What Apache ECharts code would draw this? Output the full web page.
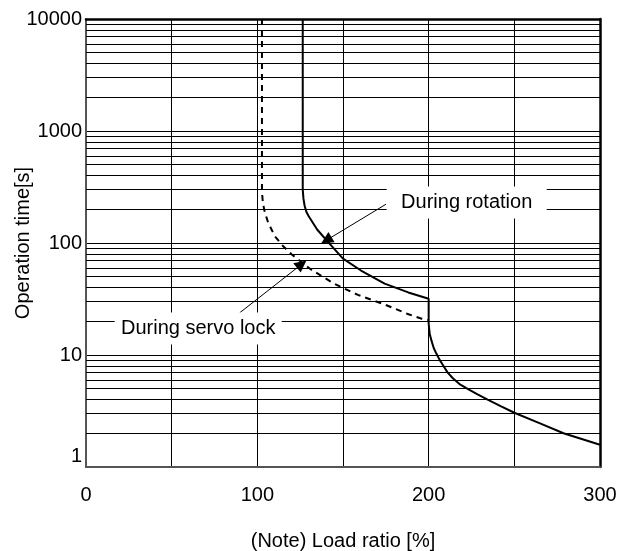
<!DOCTYPE html>
<html>
<head>
<meta charset="utf-8">
<script src="https://cdn.jsdelivr.net/npm/echarts@6/dist/echarts.min.js"></script>
<style>
html,body{margin:0;padding:0;background:#fff;}
#chart{width:628px;height:551px;}
</style>
</head>
<body>
<div id="chart"></div>
<script>
// ---- Data ----
const loadRotation = [126.5, 126.5, 126.9, 127.6, 128.6, 129.9, 134.9, 140.8, 150, 160.5, 174.3, 188.1, 200, 200, 200.6, 201.6, 203, 204.5, 206.3, 208.3, 211, 214.1, 218, 222.5, 228, 234.4, 242, 250, 265, 278.7, 300];
const timeRotation = [10000, 300, 250, 215, 190, 174, 132, 104, 72.6, 56.8, 43.4, 36.2, 31.8, 19, 15.5, 13.5, 11.5, 10.3, 9.1, 8.15, 7.0, 6.2, 5.5, 5.0, 4.5, 4.0, 3.5, 3.05, 2.45, 2.0, 1.58];

const loadServo = [102.7, 102.7, 103.2, 104.3, 106.3, 110.2, 115.1, 120.1, 130.9, 144.7, 158.7, 174.4, 188.2, 196, 199.5];
const timeServo = [10000, 290, 230, 190, 152, 115, 93.5, 79, 58.6, 43.4, 34.4, 28.2, 23.1, 21.1, 20.5];

const xTickLabels = ['0', '100', '200', '300'];
const yTickLabels = ['1', '10', '100', '1000', '10000'];
const decades = [1, 10, 100, 1000];
const minorMultipliers = [2, 3, 4, 5, 6, 7, 8, 9];

const labelRotation = 'During rotation';
const labelServo = 'During servo lock';
const xAxisName = '(Note) Load ratio [%]';
const yAxisName = 'Operation time[s]';

// annotation anchors (data units)
const rotationLabelAt = [222.2, 230];
const rotationArrowFrom = [175.1, 222];
const rotationArrowTo = [140.3, 105.8];
const servoLabelAt = [65.5, 17.2];
const servoArrowFrom = [89.7, 23.8];
const servoArrowTo = [125.9, 64.7];

// ---- Build ----
const FONT = "'Liberation Sans', Arial, sans-serif";
const zip = (xs, ys) => xs.map((x, i) => [x, ys[i]]);
const minorLines = [];
decades.forEach(d => minorMultipliers.forEach(m => minorLines.push({ yAxis: d * m })));

const chart = echarts.init(document.getElementById('chart'), null, { renderer: 'canvas' });
chart.setOption({
  animation: false,
  backgroundColor: '#fff',
  textStyle: { fontFamily: FONT },
  grid: { left: 86, right: 28, top: 19, bottom: 84, containLabel: false, outerBoundsMode: 'none' },
  xAxis: [
    {
      type: 'value', min: 0, max: 300, interval: 50, position: 'bottom',
      name: xAxisName, nameLocation: 'middle', nameGap: 64, nameMoveOverlap: false,
      nameTextStyle: { fontSize: 20, color: '#000', fontFamily: FONT },
      axisLine: { show: true, onZero: false, lineStyle: { color: '#555', width: 2 } },
      axisTick: { show: false },
      axisLabel: {
        margin: 18, fontSize: 20, color: '#000', fontFamily: FONT,
        formatter: v => { const s = String(v); return xTickLabels.includes(s) ? s : ''; }
      },
      splitLine: { show: true, lineStyle: { color: '#000', width: 1 } }
    },
    {
      type: 'value', min: 0, max: 300, position: 'top',
      axisLine: { show: true, onZero: false, lineStyle: { color: '#000', width: 2.5 } },
      axisTick: { show: false }, axisLabel: { show: false }, splitLine: { show: false }
    }
  ],
  yAxis: [
    {
      type: 'log', logBase: 10, min: 1, max: 10000, splitNumber: 4, position: 'left',
      name: yAxisName, nameLocation: 'middle', nameGap: 53, nameRotate: 90, nameMoveOverlap: false,
      nameTextStyle: { fontSize: 20, color: '#000', fontFamily: FONT },
      axisLine: { show: true, onZero: false, lineStyle: { color: '#555', width: 2 } },
      axisTick: { show: false },
      axisLabel: {
        margin: 4, fontSize: 20, color: '#000', fontFamily: FONT, lineHeight: 22,
        formatter: v => {
          const s = String(Math.round(v));
          if (!yTickLabels.includes(s)) return '';
          return s === '1' ? '1\n' : s;
        }
      },
      splitLine: { show: true, lineStyle: { color: '#000', width: 1 } }
    },
    {
      type: 'log', logBase: 10, min: 1, max: 10000, position: 'right',
      axisLine: { show: true, onZero: false, lineStyle: { color: '#000', width: 2.5 } },
      axisTick: { show: false }, axisLabel: { show: false }, splitLine: { show: false }
    }
  ],
  series: [
    {
      name: 'grid-minor', type: 'line', data: [], z: 1, silent: true,
      markLine: {
        silent: true, symbol: ['none', 'none'], animation: false,
        label: { show: false },
        lineStyle: { color: '#000', width: 1, type: 'solid' },
        emphasis: { disabled: true },
        data: minorLines
      }
    },
    {
      name: 'During servo lock', type: 'line', z: 3,
      data: zip(loadServo, timeServo), showSymbol: false, symbol: 'none',
      lineStyle: { color: '#000', width: 2, type: [6, 5] }
    },
    {
      name: 'During rotation', type: 'line', z: 3,
      data: zip(loadRotation, timeRotation), showSymbol: false, symbol: 'none',
      lineStyle: { color: '#000', width: 2, type: 'solid' }
    },
    {
      name: 'annotations', type: 'line', data: [], z: 10, silent: true,
      markPoint: {
        silent: true, animation: false,
        data: [
          {
            coord: rotationLabelAt, symbol: 'rect', symbolSize: [160, 32],
            itemStyle: { color: '#fff' },
            label: { show: true, position: 'inside', formatter: labelRotation, color: '#000', fontSize: 20, fontFamily: FONT }
          },
          {
            coord: servoLabelAt, symbol: 'rect', symbolSize: [167, 32],
            itemStyle: { color: '#fff' },
            label: { show: true, position: 'inside', formatter: labelServo, color: '#000', fontSize: 20, fontFamily: FONT }
          }
        ]
      },
      markLine: {
        silent: true, animation: false,
        symbol: ['none', 'triangle'], symbolSize: 12,
        label: { show: false },
        itemStyle: { color: '#000' },
        lineStyle: { color: '#000', width: 1, type: 'solid' },
        emphasis: { disabled: true },
        data: [
          [{ coord: rotationArrowFrom }, { coord: rotationArrowTo }],
          [{ coord: servoArrowFrom }, { coord: servoArrowTo }]
        ]
      }
    }
  ]
});
</script>
</body>
</html>
